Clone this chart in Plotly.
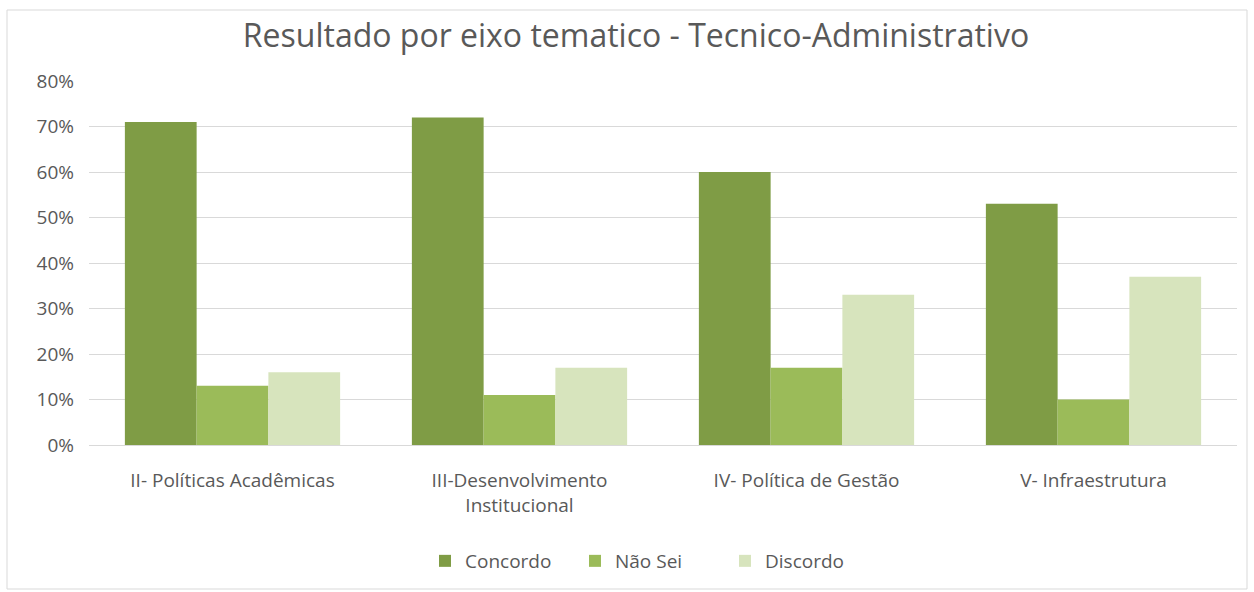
import plotly.graph_objects as go

# Thematic axes (categories) and the share of answers in each group
eixos = [
    "II- Políticas Acadêmicas",
    "III-Desenvolvimento<br>Institucional",
    "IV- Política de Gestão",
    "V- Infraestrutura",
]
concordo = [0.71, 0.72, 0.60, 0.53]
nao_sei = [0.13, 0.11, 0.17, 0.10]
discordo = [0.16, 0.17, 0.33, 0.37]

series = [
    ("Concordo", concordo, "#7F9C45"),
    ("Não Sei", nao_sei, "#9BBB59"),
    ("Discordo", discordo, "#D7E4BD"),
]

W, H = 1254, 592
ML, MR, MT, MB = 89, 17, 81, 147

fig = go.Figure()
for name, vals, color in series:
    fig.add_trace(go.Bar(
        x=eixos, y=vals, name=name,
        marker=dict(color=color, line=dict(width=0)),
    ))

font_family = "Open Sans, Liberation Sans, sans-serif"
grey_text = "#595959"

fig.update_layout(
    width=W, height=H,
    margin=dict(l=ML, r=MR, t=MT, b=MB),
    paper_bgcolor="white",
    plot_bgcolor="white",
    barmode="group",
    bargap=0.25,
    bargroupgap=0,
    font=dict(family=font_family, color=grey_text),
    title=dict(
        text="Resultado por eixo tematico - Tecnico-Administrativo",
        x=(636 - ML) / (W - ML - MR), xanchor="center", xref="paper",
        y=1 - 36 / H, yanchor="middle", yref="container",
        font=dict(size=32, color="#595959", family=font_family),
    ),
    legend=dict(
        orientation="h",
        x=(650 - ML) / (W - ML - MR), xanchor="center", xref="paper",
        y=-(561 - (H - MB)) / (H - MT - MB), yanchor="middle",
        font=dict(size=19, color=grey_text),
        itemwidth=30,
        entrywidth=105,
        entrywidthmode="pixels",
        traceorder="normal",
    ),
    showlegend=True,
)

fig.update_yaxes(
    range=[0, 0.8],
    dtick=0.1,
    tickformat=".0%",
    showgrid=True,
    gridcolor="#D9D9D9",
    gridwidth=1,
    zeroline=False,
    showline=False,
    ticks="",
    ticklabelstandoff=14,
    tickfont=dict(size=19, color=grey_text),
)
fig.update_xaxes(
    showline=True,
    linecolor="#D9D9D9",
    linewidth=1,
    ticks="",
    ticklabelstandoff=18,
    tickfont=dict(size=19, color=grey_text),
)

# light chart-area border
pw = W - ML - MR
ph = H - MT - MB
fig.add_shape(
    type="rect", xref="paper", yref="paper",
    x0=(7 - ML) / pw, x1=(W - 7 - ML) / pw,
    y0=-(H - 3 - (H - MB)) / ph, y1=1 + (MT - 10) / ph,
    line=dict(color="#D9D9D9", width=1),
    fillcolor="rgba(0,0,0,0)",
    layer="below",
)

fig.write_html("out.html")
